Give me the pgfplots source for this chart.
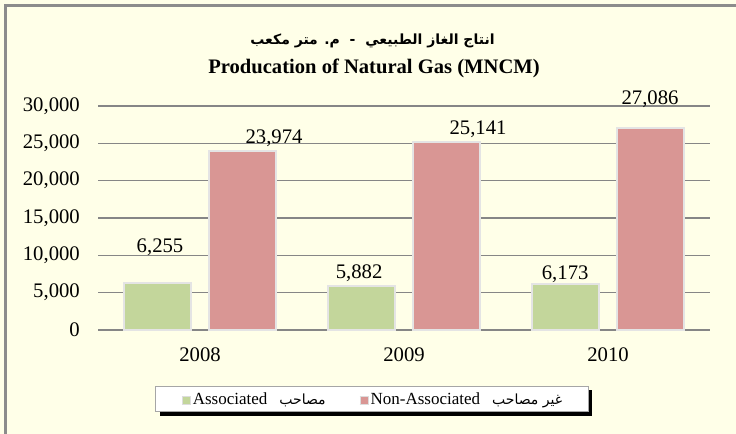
\documentclass[border=0pt]{standalone}
\usepackage{fontspec}
\setmainfont{Liberation Serif}
\newfontfamily\arabicfont[Script=Arabic]{DejaVu Sans}
\TeXXeTstate=1
\usepackage{pgfplots}
\pgfplotsset{compat=1.18}
\usetikzlibrary{shadows}
\definecolor{bg}{HTML}{FFFFE8}
\definecolor{framegray}{HTML}{8C8C8C}
\definecolor{gridgray}{HTML}{868686}
\definecolor{assocgreen}{HTML}{C3D69B}
\definecolor{nonred}{HTML}{D99694}
\definecolor{baredge}{HTML}{E4E4E4}
\definecolor{sqedge}{HTML}{DDDDDD}
\setlength{\fboxsep}{0pt}
\setlength{\fboxrule}{1bp}

\pgfplotstableread{
x y
0 6255
1 5882
2 6173
}\assoc
\pgfplotstableread{
x y
0 23974
1 25141
2 27086
}\nonassoc
\pgfplotstableread{
x y label
-0.196 11116 6,255
0.363 25714 23,974
1.363 26920 25,141
2.206 30850 27,086
0.78 7634 5,882
1.79 7430 6,173
}\labels

\begin{document}
\begin{tikzpicture}[x=1bp,y=1bp]
\fill[bg] (0,0) rectangle (736,-434);
\useasboundingbox (0,0) rectangle (736,-434);
\draw[line width=3bp, framegray] (5.5,-434) -- (5.5,-5.5) -- (736,-5.5);
\node[font=\arabicfont\bfseries\fontsize{14bp}{16bp}\selectfont, inner sep=0pt] at (372.5,-41) {\beginR انتاج الغاز الطبيعي \ - \ م. متر مكعب\endR};
\node[font=\bfseries\fontsize{20.6bp}{24bp}\selectfont, anchor=base, inner sep=0pt] at (374,-73.5) {Producation of Natural Gas (MNCM)};
\begin{axis}[
  at={(98bp,-330bp)}, anchor=south west,
  scale only axis, width=612bp, height=224bp,
  xmin=-0.5, xmax=2.5, ymin=0, ymax=30000,
  xtick={0,1,2}, xticklabels={2008,2009,2010},
  ytick={0,5000,...,30000},
  axis line style={draw=none},
  major tick length=0pt,
  ymajorgrids, grid style={line width=1.2bp, gridgray},
  scaled y ticks=false,
  /pgf/number format/assume math mode=true,
  y tick label style={/pgf/number format/fixed, /pgf/number format/1000 sep={,}, inner sep=0pt, xshift=-18bp},
  x tick label style={inner sep=0pt, yshift=-18bp},
  tick label style={font=\fontsize{20.7bp}{24bp}\selectfont},
  clip=false,
  legend columns=2,
  legend image code/.code={},
  legend style={at={(0.4477,-0.308)}, anchor=center, fill=white, draw=gray!70, line width=0.8bp,
    font=\fontsize{17bp}{20bp}\selectfont, inner xsep=24bp, inner ysep=4bp,
    /tikz/every even column/.append style={column sep=30bp},
    drop shadow={shadow xshift=4bp, shadow yshift=-4bp, fill=black, opacity=1}},
]
\addplot[ybar, bar width=0.328, bar shift=-0.208, fill=assocgreen, draw=baredge, line width=2bp, forget plot] table[x=x,y=y] {\assoc};
\addplot[ybar, bar width=0.328, bar shift=0.208, fill=nonred, draw=baredge, line width=2bp, forget plot] table[x=x,y=y] {\nonassoc};
\addplot[draw=none, mark=none, forget plot, nodes near coords, point meta=explicit symbolic,
  nodes near coords align=center,
  every node near coord/.append style={font=\fontsize{20.7bp}{24bp}\selectfont, inner sep=0pt, anchor=center}]
  table[x=x,y=y,meta=label] {\labels};
\addlegendimage{empty legend}
\addlegendentry{\fcolorbox{sqedge}{assocgreen}{\rule{0pt}{7bp}\hspace{7bp}}\hspace{2bp}Associated\hspace{12bp}{\arabicfont\fontsize{14bp}{17bp}\selectfont\beginR مصاحب\endR}}
\addlegendimage{empty legend}
\addlegendentry{\fcolorbox{sqedge}{nonred}{\rule{0pt}{7bp}\hspace{7bp}}\hspace{2bp}Non-Associated\hspace{12bp}{\arabicfont\fontsize{14bp}{17bp}\selectfont\beginR غير مصاحب\endR}}
\end{axis}
\end{tikzpicture}
\end{document}
